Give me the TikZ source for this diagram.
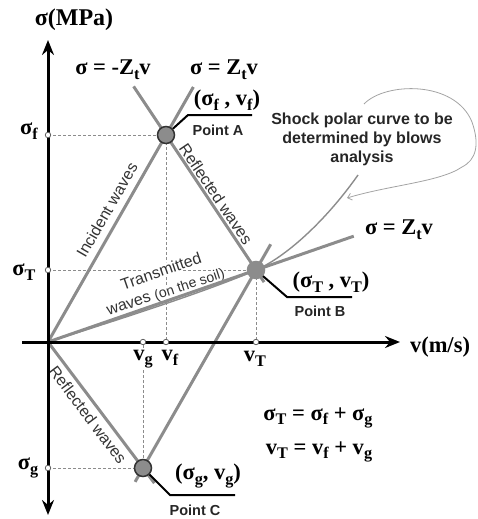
\documentclass[tikz,border=0pt]{standalone}
\usepackage{fontspec}
\setmainfont{Liberation Serif}
\newfontfamily\lsans{Liberation Sans}
\usetikzlibrary{arrows.meta,calc}
\definecolor{wgray}{HTML}{8C8C8C}
\newcommand\sbs[1]{\raisebox{-0.45ex}{\scalebox{0.72}{#1}}}
\begin{document}
\begin{tikzpicture}[x=1pt,y=-1pt,
  wave/.style={draw=wgray,line width=3pt},
  shockline/.style={draw=wgray,line width=1.4pt},
  guide/.style={draw=wgray,line width=0.8pt,dash pattern=on 3pt off 2pt},
  axisline/.style={draw=black,line width=3pt},
  tickmark/.style={circle,draw=wgray!70!black,fill=white,line width=0.8pt,inner sep=0pt,minimum size=5.5pt},
  ptdot/.style={circle,fill=wgray,draw=black!80,line width=1.5pt,inner sep=0pt,minimum size=17pt},
  leader/.style={draw=black,line width=2pt},
  mathlbl/.style={font=\bfseries\fontsize{22.5}{26}\selectfont,inner sep=0pt},
  ptlbl/.style={font=\lsans\bfseries\fontsize{14.5}{17}\selectfont,inner sep=0pt,text=black!85},
  wavelbl/.style={font=\lsans\fontsize{16}{19}\selectfont,text=black!80,fill=white,inner sep=0.5pt},
  callout/.style={draw=wgray!80,line width=0.8pt},
  axtip/.tip={Stealth[length=15pt,width=12pt,inset=5pt]},
]
\useasboundingbox (0,0) rectangle (477,519);
% key points
\coordinate (O) at (48,342);
\coordinate (pA) at (166,135);
\coordinate (pB) at (256,270);
\coordinate (pC) at (143,468);
\coordinate (csf) at (48,135);
\coordinate (csT) at (48,270);
\coordinate (csg) at (48,468);
\coordinate (cvg) at (143,342);
\coordinate (cvf) at (166,342);
\coordinate (cvT) at (256,342);
% dashed guides
\draw[guide] (csf) -- (pA) -- (cvf);
\draw[guide] (csT) -- (pB) -- (cvT);
\draw[guide] (csg) -- (pC) -- (cvg);
% wave labels
\node[wavelbl,rotate=60] (linc) at (107,210) {Incident waves};
\node[wavelbl,rotate=-56] (lref1) at (216,194) {Reflected waves};
\node[wavelbl,rotate=19] (ltr1) at (161,271) {Transmitted};
\node[wavelbl,rotate=18] (ltr2) at (166,293) {waves {\fontsize{14}{16}\selectfont(on the soil)}};
\node[wavelbl,rotate=-53] (lref2) at (88,415) {Reflected waves};
% wave lines
\draw[wave] (O) -- ($(O)!1.232!(pA)$);
\draw[wave] ($(pA)!-0.36!(pB)$) -- ($(pA)!1.09!(pB)$);
\draw[wave] ($(pC)!-0.07!(pB)$) -- ($(pC)!1.13!(pB)$);
\draw[wave] (O) -- ($(O)!1.12!(pC)$);
\draw[wave] (O) -- ($(O)!1.47!(pB)$);
% shock polar curve
\draw[shockline] (O) .. controls (130,316) and (210,290) .. (pB) .. controls (290,255) and (330,215) .. (358,175);
% axes
\coordinate (ytop) at (48,40);
\coordinate (ybot) at (48,515);
\coordinate (xl) at (22,342);
\coordinate (xr) at (400,342);
\draw[axisline,axtip-axtip] (ybot) -- (ytop);
\draw[axisline,-axtip] (xl) -- (xr);
% ticks
\node[tickmark] (tsf) at (csf) {};
\node[tickmark] (tsT) at (csT) {};
\node[tickmark] (tsg) at (csg) {};
\node[tickmark] (tvg) at (cvg) {};
\node[tickmark] (tvf) at (cvf) {};
\node[tickmark] (tvT) at (cvT) {};
% points
\node[ptdot] (A) at (pA) {};
\node[ptdot,draw=wgray] (B) at (pB) {};
\node[ptdot] (C) at (pC) {};
% leaders
\coordinate (la1) at (188,115); \coordinate (la2) at (252,115);
\coordinate (lb1) at (287,297); \coordinate (lb2) at (352,297);
\coordinate (lc1) at (170,495); \coordinate (lc2) at (235,495);
\draw[leader] (A) -- (la1) -- (la2);
\draw[leader] (B) -- (lb1) -- (lb2);
\draw[leader] (C) -- (lc1) -- (lc2);
% callout
\coordinate (cs) at (364,104);
\coordinate (ce) at (347,198);
\draw[callout,-{Straight Barb[length=4pt,width=7pt]}] (cs) .. controls (385,82) and (455,80) .. (472,122) .. controls (480,145) and (476,160) .. (462,167) .. controls (440,182) and (390,185) .. (ce);
\node[font=\lsans\bfseries\fontsize{16}{19}\selectfont,align=center,text=black!85] (ctext) at (362,139) {Shock polar curve to be\\determined by blows\\analysis};
% math labels
\node[mathlbl,font=\bfseries\fontsize{24}{28}\selectfont] (ysig) at (74,20) {σ(MPa)};
\node[mathlbl] (eqm) at (113,70) {σ = -Z\sbs{t}v};
\node[mathlbl] (eqp) at (224,70) {σ = Z\sbs{t}v};
\node[mathlbl] (eqs) at (399,230) {σ = Z\sbs{t}v};
\node[mathlbl] (xv) at (440,347) {v(m/s)};
\node[mathlbl] (lsf) at (29,131) {σ\sbs{f}};
\node[mathlbl] (lsT) at (24,272) {σ\sbs{T}};
\node[mathlbl] (lsg) at (28,468) {σ\sbs{g}};
\node[mathlbl,fill=white] (lvg) at (143,359) {v\sbs{g}};
\node[mathlbl] (lvf) at (170,358) {v\sbs{f}};
\node[mathlbl] (lvT) at (255,359) {v\sbs{T}};
\node[mathlbl] (cA) at (227,100) {(σ\sbs{f} , v\sbs{f})};
\node[mathlbl] (cB) at (331,282) {(σ\sbs{T} , v\sbs{T})};
\node[mathlbl] (cC) at (208,476) {(σ\sbs{g}, v\sbs{g})};
\node[ptlbl] (nA) at (218,130) {Point A};
\node[ptlbl] (nB) at (320,311) {Point B};
\node[ptlbl] (nC) at (195,510) {Point C};
\node[mathlbl] (e1) at (318,418) {σ\sbs{T} = σ\sbs{f} + σ\sbs{g}};
\node[mathlbl] (e2) at (319,452) {v\sbs{T} = v\sbs{f} + v\sbs{g}};
\end{tikzpicture}
\end{document}
